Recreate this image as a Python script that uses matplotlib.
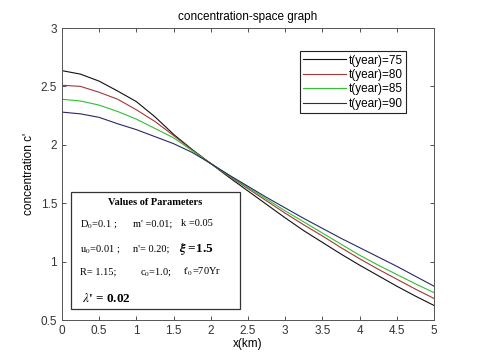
import matplotlib
matplotlib.use('Agg')
import matplotlib.pyplot as plt
from matplotlib.patches import Rectangle
import numpy as np

plt.rcParams['font.family'] = ['Liberation Sans', 'DejaVu Sans']
plt.rcParams['mathtext.fontset'] = 'stix'

# distance along x (km)
x_km = [0, 0.25, 0.5, 0.75, 1.0, 1.25, 1.5, 1.75, 2.0, 2.25, 2.5,
        2.75, 3.0, 3.25, 3.5, 3.75, 4.0, 4.25, 4.5, 4.75, 5.0]

# concentration c', one list per time
c_t75 = [2.635, 2.605, 2.545, 2.46, 2.37, 2.24, 2.09, 1.96, 1.84, 1.72, 1.605,
         1.49, 1.375, 1.265, 1.165, 1.065, 0.97, 0.88, 0.79, 0.705, 0.625]
c_t80 = [2.51, 2.50, 2.45, 2.39, 2.30, 2.20, 2.08, 1.955, 1.84, 1.73, 1.625,
         1.52, 1.415, 1.315, 1.22, 1.12, 1.025, 0.935, 0.85, 0.765, 0.685]
c_t85 = [2.39, 2.375, 2.34, 2.285, 2.22, 2.14, 2.06, 1.95, 1.84, 1.735, 1.635,
         1.535, 1.435, 1.34, 1.245, 1.15, 1.055, 0.97, 0.89, 0.81, 0.735]
c_t90 = [2.28, 2.265, 2.235, 2.18, 2.13, 2.07, 2.01, 1.935, 1.84, 1.74, 1.645,
         1.55, 1.46, 1.37, 1.285, 1.20, 1.12, 1.04, 0.96, 0.875, 0.79]

series = [c_t75, c_t80, c_t85, c_t90]
labels = ['t(year)=75', 't(year)=80', 't(year)=85', 't(year)=90']
colours = ['#101010', '#a03838', '#30c030', '#282868']

xticks = np.arange(0, 5.01, 0.5)
yticks = np.arange(0.5, 3.01, 0.5)

fig = plt.figure(figsize=(4.8, 3.59), dpi=100)
ax = fig.add_axes([0.129, 0.1086, 0.775, 0.8134])

for c, lab, col in zip(series, labels, colours):
    ax.plot(x_km, c, color=col, lw=0.8, label=lab)

ax.set_xlim(0, 5)
ax.set_ylim(0.5, 3)
ax.set_xticks(xticks)
ax.set_xticklabels(['%g' % v for v in xticks])
ax.set_yticks(yticks)
ax.set_yticklabels(['%g' % v for v in yticks])
ax.tick_params(direction='in', top=True, right=True, labelsize=8.5,
               colors='#333333', length=3, width=0.6)
for s in ax.spines.values():
    s.set_color('#555555'); s.set_linewidth(0.7)

ax.set_title('concentration-space graph', fontsize=8.5, pad=6)
ax.set_xlabel('x(km)', fontsize=8.5, labelpad=1)
ax.set_ylabel("concentration c'", fontsize=8.5, labelpad=4)

leg = ax.legend(loc='upper right', bbox_to_anchor=(0.925, 0.921), fontsize=8.5,
                fancybox=False, framealpha=1, edgecolor='#222222',
                borderaxespad=0, handlelength=3.6, labelspacing=0.2,
                handletextpad=0.2, borderpad=0.3)
leg.get_frame().set_linewidth(0.8)

# parameter box
ax.add_patch(Rectangle((0.024, 0.038), 0.454, 0.40, transform=ax.transAxes,
                       facecolor='white', edgecolor='#333333', lw=0.9, zorder=5))
serif = 'Liberation Serif'
tk = dict(transform=ax.transAxes, fontsize=7.5, family=serif, va='center', zorder=6)
ax.text(0.25, 0.404, 'Values of Parameters', ha='center', fontweight='bold', **tk)
ax.text(0.048, 0.329, r'D$_0$=0.1 ;', **tk)
ax.text(0.19, 0.329, "m' =0.01;", **tk)
ax.text(0.32, 0.329, 'k =0.05', **tk)
ax.text(0.048, 0.243, r'u$_0$=0.01 ;', **tk)
ax.text(0.19, 0.243, "n'= 0.20;", **tk)
ax.text(0.315, 0.243, r'$\boldsymbol{\xi}$ =1.5', fontweight='bold',
        **{**tk, 'fontsize': 9.5})
ax.text(0.048, 0.164, 'R= 1.15;', **tk)
ax.text(0.21, 0.164, r'c$_0$=1.0;', **tk)
ax.text(0.325, 0.164, r"t'$_0$=70Yr", **tk)
ax.text(0.054, 0.072, r"$\lambda$' = 0.02", fontweight='bold',
        **{**tk, 'fontsize': 9.5})

fig.savefig('out.png', dpi=100)
